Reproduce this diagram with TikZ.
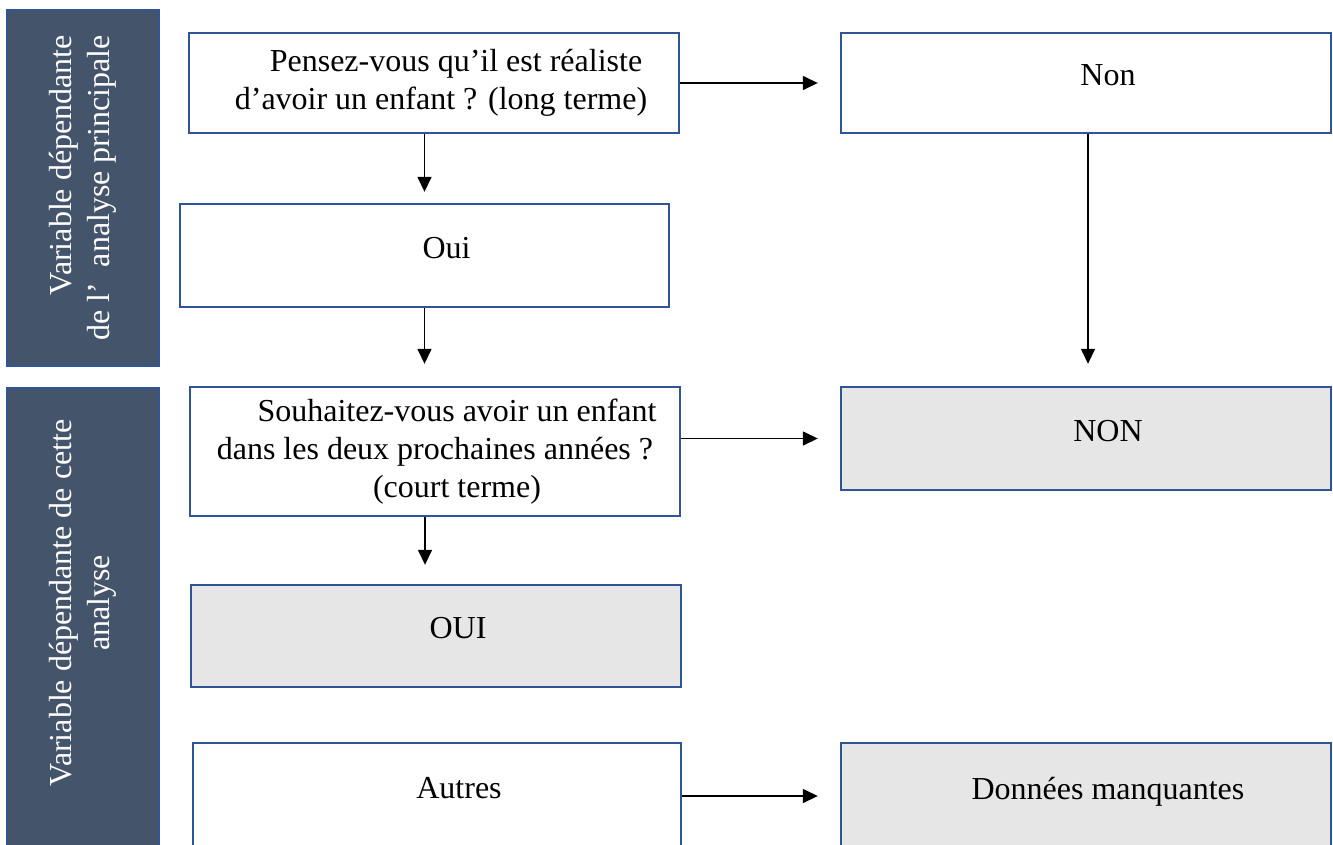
\documentclass[tikz,border=0pt]{standalone}
\usepackage{fontspec}
\setmainfont{Liberation Serif}
\usetikzlibrary{arrows.meta}
\definecolor{panelgrey}{HTML}{44546A}
\definecolor{boxblue}{HTML}{2F5597}
\definecolor{answergrey}{HTML}{E7E6E6}
\newcommand\indt{\hspace*{44pt}}
\begin{document}
\begin{tikzpicture}[x=1pt,y=-1pt,font=\fontsize{32}{38}\selectfont,
  box/.style={draw=boxblue,line width=2.4pt,fill=white,inner sep=0pt,
    align=center,minimum width=490pt,minimum height=102pt},
  answer/.style={box,fill=answergrey},
  oneline/.style={text depth=16pt},
  panel/.style={draw=boxblue,line width=1.2pt,fill=panelgrey},
  side/.style={text=white,rotate=90,inner sep=0pt},
  arr/.style={line width=1.5pt,-{Triangle[length=15pt,width=14pt]}}]
  \useasboundingbox (0,0) rectangle (1333,844);
  % left-hand panels
  \draw[panel] (7,10) rectangle (159,366);
  \draw[panel] (7,388) rectangle (159,870);
  \node[side,align=right] (mainvar) at (83,188)
    {Variable dépendante\\de l’\ \ analyse principale};
  \node[side,align=center] (thisvar) at (83,603)
    {Variable dépendante de cette\\analyse};
  % questions and answers
  \node[box,minimum height=100pt] (qlong) at (434,83)
    {\indt Pensez-vous qu’il est réaliste\\\hspace*{14pt}d’avoir un enfant ? (long terme)};
  \node[box,oneline,minimum height=100pt] (non) at (1086,83) {\indt Non};
  \node[box,oneline,minimum width=489pt,minimum height=103pt] (oui) at (424.5,255.5) {\indt Oui};
  \node[box,minimum height=129pt] (qshort) at (435,451.5)
    {\indt Souhaitez-vous avoir un enfant\\dans les deux prochaines années ?\\\indt (court terme)};
  \node[answer,oneline,minimum height=103pt] (nonfin) at (1086,438.5) {\indt NON};
  \node[answer,oneline] (ouifin) at (436,636) {\indt OUI};
  \node[box,oneline,minimum width=488pt,minimum height=106pt] (autres) at (437,796) {\indt Autres};
  \node[answer,oneline,minimum height=106pt] (missing) at (1086,796) {\indt Données manquantes};
  % connectors
  \draw[arr] (qlong.east) -- ([xshift=-22pt]non.west);
  \draw[arr] (qlong.south -| oui.north) -- ([yshift=11pt]oui.north);
  \draw[arr] (oui.south) -- ([yshift=22pt]qshort.north -| oui.south);
  \draw[arr] ([xshift=2pt]non.south) -- ([xshift=2pt,yshift=22pt]nonfin.north);
  \draw[arr] (qshort.east |- nonfin.west) -- ([xshift=-22pt]nonfin.west);
  \draw[arr] ([xshift=-10pt]qshort.south) -- ([xshift=-11pt,yshift=19pt]ouifin.north);
  \draw[arr] (autres.east) -- ([xshift=-22pt]missing.west |- autres.east);
\end{tikzpicture}
\end{document}
